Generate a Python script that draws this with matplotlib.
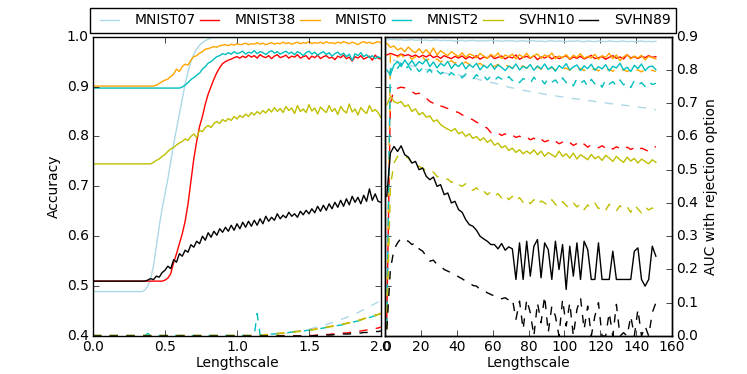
#!/usr/bin/python3

import numpy as np
import matplotlib
matplotlib.use('Agg')
import matplotlib.pyplot as plt

## Dataset names and the colour used for each one.
names = ['MNIST07', 'MNIST38', 'MNIST0', 'MNIST2', 'SVHN10', 'SVHN89']
colors = ['lightblue', 'r', 'orange', 'c', 'y', 'k']

## Left panel: accuracy against lengthscale (0.0 .. 2.0, step 0.02).
acc_mnist07 = [0.489] * 18 + [
  0.492, 0.500, 0.515, 0.540, 0.580, 0.620, 0.655, 0.685, 0.715, 0.750,
  0.785, 0.815, 0.845, 0.875, 0.905, 0.930, 0.950, 0.965, 0.975, 0.983,
  0.988, 0.992, 0.995, 0.997] + [0.998] * 59
acc_mnist38 = [0.510] * 25 + [
  0.512, 0.516, 0.525, 0.547, 0.565, 0.585, 0.605, 0.630, 0.665, 0.710,
  0.755, 0.790, 0.820, 0.840, 0.865, 0.885, 0.900, 0.915, 0.928, 0.938,
  0.946, 0.950, 0.953, 0.955, 0.958, 0.960,
  0.957, 0.961, 0.958, 0.963, 0.959, 0.962, 0.957, 0.964, 0.960, 0.958,
  0.962, 0.956, 0.961, 0.964, 0.958, 0.960, 0.963, 0.957, 0.961, 0.959,
  0.964, 0.957, 0.960, 0.962, 0.955, 0.961, 0.958, 0.963, 0.956, 0.960,
  0.962, 0.957, 0.959, 0.954, 0.961, 0.958, 0.963, 0.956, 0.959, 0.951,
  0.960, 0.957, 0.962, 0.955, 0.958, 0.961, 0.953, 0.963, 0.957, 0.955]
acc_mnist0 = [0.901] * 22 + [
  0.903, 0.906, 0.910, 0.913, 0.915, 0.920, 0.925, 0.935, 0.930, 0.940,
  0.945, 0.943, 0.953, 0.960, 0.962, 0.967, 0.970, 0.975, 0.976, 0.978,
  0.980, 0.979, 0.982, 0.983,
  0.984, 0.982, 0.985, 0.983, 0.986, 0.984, 0.985, 0.987, 0.984, 0.986,
  0.985, 0.988, 0.985, 0.987, 0.984, 0.986, 0.988, 0.985, 0.987, 0.986,
  0.989, 0.986, 0.988, 0.985, 0.987, 0.989, 0.986, 0.988, 0.987, 0.990,
  0.986, 0.988, 0.987, 0.989, 0.986, 0.990, 0.987, 0.988, 0.986, 0.989,
  0.987, 0.990, 0.988, 0.986, 0.989, 0.987, 0.984, 0.988, 0.990, 0.987,
  0.989, 0.986, 0.988, 0.990, 0.988]
acc_mnist2 = [0.897] * 31 + [
  0.899, 0.903, 0.908, 0.914, 0.918, 0.923, 0.927, 0.935, 0.940, 0.947,
  0.950, 0.955, 0.960, 0.962, 0.966,
  0.964, 0.968, 0.965, 0.970, 0.966, 0.968, 0.971, 0.965, 0.969, 0.967,
  0.972, 0.966, 0.970, 0.968, 0.964, 0.969, 0.972, 0.967, 0.970, 0.965,
  0.968, 0.971, 0.966, 0.969, 0.964, 0.970, 0.967, 0.962, 0.968, 0.971,
  0.965, 0.969, 0.963, 0.967, 0.970, 0.964, 0.968, 0.961, 0.966, 0.969,
  0.963, 0.967, 0.960, 0.965, 0.952, 0.966, 0.962, 0.968, 0.960, 0.964,
  0.958, 0.962, 0.956, 0.960, 0.957]
acc_svhn10 = [0.745] * 21 + [
  0.748, 0.752, 0.755, 0.760, 0.764, 0.770, 0.775, 0.778, 0.783, 0.787,
  0.790, 0.795, 0.792, 0.800, 0.805, 0.798, 0.812, 0.810, 0.818, 0.822,
  0.818, 0.826, 0.830, 0.826, 0.834,
  0.830, 0.836, 0.832, 0.840, 0.835, 0.842, 0.838, 0.845, 0.840, 0.848,
  0.843, 0.850, 0.845, 0.852, 0.847, 0.855, 0.849, 0.858, 0.850, 0.856,
  0.848, 0.860, 0.852, 0.857, 0.846, 0.862, 0.850, 0.855, 0.848, 0.864,
  0.851, 0.857, 0.845, 0.859, 0.853, 0.848, 0.862, 0.850, 0.856, 0.844,
  0.860, 0.852, 0.847, 0.865, 0.849, 0.855, 0.843, 0.858, 0.851, 0.846,
  0.862, 0.850, 0.854, 0.848, 0.838]
acc_svhn89 = [0.510] * 19 + [
  0.512, 0.515, 0.513, 0.520, 0.518, 0.527, 0.532, 0.540, 0.535, 0.553,
  0.548, 0.565, 0.560, 0.572, 0.568, 0.583, 0.578, 0.590, 0.585, 0.600,
  0.592, 0.607, 0.598, 0.610, 0.602, 0.615, 0.608, 0.618, 0.610, 0.622,
  0.612, 0.625, 0.615, 0.628, 0.618, 0.630, 0.620, 0.632, 0.622, 0.635,
  0.625, 0.640, 0.630, 0.638, 0.632, 0.645, 0.635, 0.642, 0.637, 0.648,
  0.640, 0.645, 0.638, 0.650, 0.643, 0.652, 0.645, 0.655, 0.647, 0.660,
  0.650, 0.662, 0.652, 0.665, 0.655, 0.668, 0.658, 0.672, 0.660, 0.675,
  0.663, 0.680, 0.668, 0.678, 0.665, 0.682, 0.670, 0.695, 0.672, 0.685,
  0.670, 0.668]

## Left panel, dashed curves lying along the bottom of the axis.
low_mnist07 = [0.401] * 60 + [
  0.402, 0.402, 0.403, 0.403, 0.404, 0.405, 0.405, 0.406, 0.407, 0.408,
  0.409, 0.410, 0.411, 0.412, 0.413, 0.414, 0.415, 0.417, 0.418, 0.420,
  0.421, 0.423, 0.425, 0.427, 0.429, 0.431, 0.433, 0.435, 0.437, 0.440,
  0.442, 0.445, 0.447, 0.450, 0.453, 0.456, 0.459, 0.462, 0.465, 0.468,
  0.472]
low_mnist38 = [0.400] * 75 + [
  0.401, 0.401, 0.401, 0.402, 0.402, 0.402, 0.403, 0.403, 0.404, 0.404,
  0.405, 0.405, 0.406, 0.406, 0.407, 0.408, 0.408, 0.409, 0.410, 0.411,
  0.412, 0.413, 0.414, 0.415, 0.416, 0.418]
low_mnist0 = [0.401] * 58 + [
  0.402, 0.402, 0.403, 0.403, 0.404, 0.404, 0.405, 0.406, 0.406, 0.407,
  0.407, 0.408, 0.409, 0.409, 0.410, 0.411, 0.412, 0.412, 0.413, 0.414,
  0.415, 0.416, 0.417, 0.418, 0.419, 0.420, 0.421, 0.422, 0.423, 0.424,
  0.426, 0.427, 0.428, 0.430, 0.431, 0.433, 0.435, 0.436, 0.438, 0.440,
  0.442, 0.443, 0.446]
low_mnist2 = [0.401] * 19 + [0.405] + [0.401] * 37 + [0.445] + [
  0.403, 0.402, 0.403, 0.403, 0.404, 0.404, 0.405, 0.405, 0.406, 0.406,
  0.407, 0.408, 0.408, 0.409, 0.410, 0.410, 0.411, 0.412, 0.413, 0.414,
  0.415, 0.415, 0.416, 0.417, 0.418, 0.419, 0.420, 0.421, 0.422, 0.423,
  0.425, 0.426, 0.427, 0.429, 0.430, 0.432, 0.434, 0.435, 0.437, 0.439,
  0.441, 0.443, 0.445]
low_svhn10 = [0.401] * 58 + [
  0.401, 0.402, 0.402, 0.403, 0.403, 0.404, 0.404, 0.405, 0.405, 0.406,
  0.407, 0.407, 0.408, 0.409, 0.409, 0.410, 0.411, 0.412, 0.412, 0.413,
  0.414, 0.415, 0.416, 0.417, 0.418, 0.419, 0.420, 0.421, 0.422, 0.424,
  0.425, 0.426, 0.428, 0.429, 0.431, 0.432, 0.434, 0.436, 0.437, 0.439,
  0.441, 0.443, 0.444]
low_svhn89 = [0.400] * 75 + [
  0.400, 0.400, 0.401, 0.401, 0.401, 0.401, 0.402, 0.402, 0.402, 0.403,
  0.403, 0.403, 0.404, 0.404, 0.404, 0.405, 0.405, 0.406, 0.406, 0.407,
  0.407, 0.408, 0.408, 0.409, 0.409, 0.410]

## Right panel: AUC with rejection option (x = 1, 3, ..., 151), solid curves.
auc_mnist07 = [
  0.890, 0.892, 0.891, 0.890, 0.891, 0.889, 0.890, 0.891, 0.889, 0.890,
  0.889, 0.890, 0.888, 0.889, 0.890, 0.888, 0.889, 0.888, 0.889, 0.887,
  0.888, 0.889, 0.887, 0.888, 0.889, 0.887, 0.888, 0.887, 0.888, 0.889,
  0.887, 0.888, 0.886, 0.888, 0.887, 0.888, 0.886, 0.887, 0.888, 0.886,
  0.887, 0.888, 0.886, 0.887, 0.885, 0.887, 0.888, 0.886, 0.887, 0.886,
  0.885, 0.887, 0.886, 0.888, 0.886, 0.885, 0.887, 0.886, 0.885, 0.887,
  0.886, 0.885, 0.887, 0.886, 0.885, 0.886, 0.887, 0.885, 0.886, 0.885,
  0.886, 0.887, 0.885, 0.886, 0.885, 0.886]
auc_mnist38 = [
  0.845, 0.850, 0.846, 0.842, 0.848, 0.843, 0.846, 0.840, 0.845, 0.838,
  0.844, 0.839, 0.846, 0.837, 0.842, 0.835, 0.843, 0.838, 0.834, 0.841,
  0.836, 0.842, 0.833, 0.840, 0.835, 0.843, 0.832, 0.839, 0.836, 0.844,
  0.834, 0.838, 0.842, 0.833, 0.840, 0.836, 0.845, 0.832, 0.838, 0.841,
  0.835, 0.843, 0.831, 0.839, 0.836, 0.842, 0.833, 0.840, 0.834, 0.838,
  0.843, 0.832, 0.839, 0.835, 0.841, 0.833, 0.838, 0.844, 0.834, 0.837,
  0.840, 0.832, 0.838, 0.843, 0.835, 0.839, 0.833, 0.846, 0.836, 0.840,
  0.834, 0.841, 0.837, 0.843, 0.838, 0.840]
auc_mnist0 = [
  0.880, 0.868, 0.872, 0.860, 0.866, 0.855, 0.869, 0.858, 0.852, 0.864,
  0.850, 0.861, 0.848, 0.866, 0.845, 0.858, 0.850, 0.843, 0.855, 0.847,
  0.840, 0.852, 0.838, 0.848, 0.844, 0.836, 0.850, 0.842, 0.835, 0.847,
  0.839, 0.851, 0.834, 0.845, 0.840, 0.848, 0.833, 0.846, 0.838, 0.850,
  0.836, 0.843, 0.848, 0.835, 0.845, 0.839, 0.851, 0.834, 0.842, 0.837,
  0.846, 0.833, 0.844, 0.838, 0.849, 0.835, 0.841, 0.836, 0.847, 0.832,
  0.843, 0.838, 0.850, 0.834, 0.845, 0.828, 0.840, 0.846, 0.833, 0.842,
  0.836, 0.844, 0.830, 0.841, 0.837, 0.833]
auc_mnist2 = [
  0.800, 0.785, 0.815, 0.825, 0.810, 0.830, 0.815, 0.828, 0.812, 0.825,
  0.818, 0.832, 0.810, 0.824, 0.806, 0.820, 0.812, 0.826, 0.804, 0.818,
  0.810, 0.822, 0.803, 0.816, 0.808, 0.820, 0.800, 0.814, 0.806, 0.819,
  0.802, 0.815, 0.808, 0.798, 0.812, 0.804, 0.818, 0.800, 0.811, 0.805,
  0.816, 0.799, 0.812, 0.803, 0.818, 0.801, 0.810, 0.796, 0.813, 0.805,
  0.819, 0.800, 0.809, 0.815, 0.798, 0.812, 0.804, 0.817, 0.799, 0.810,
  0.803, 0.816, 0.797, 0.811, 0.806, 0.820, 0.800, 0.808, 0.795, 0.814,
  0.804, 0.818, 0.798, 0.809, 0.812, 0.801]
auc_svhn10 = [
  0.695, 0.720, 0.705, 0.700, 0.705, 0.690, 0.695, 0.675, 0.683, 0.665,
  0.672, 0.658, 0.662, 0.645, 0.650, 0.636, 0.628, 0.622, 0.616, 0.624,
  0.608, 0.614, 0.600, 0.608, 0.594, 0.600, 0.588, 0.596, 0.582, 0.590,
  0.574, 0.580, 0.566, 0.572, 0.558, 0.565, 0.552, 0.560, 0.548, 0.556,
  0.548, 0.560, 0.545, 0.556, 0.540, 0.552, 0.545, 0.538, 0.556, 0.540,
  0.548, 0.535, 0.550, 0.532, 0.545, 0.538, 0.530, 0.546, 0.533, 0.540,
  0.528, 0.543, 0.535, 0.525, 0.540, 0.530, 0.522, 0.538, 0.526, 0.534,
  0.520, 0.532, 0.525, 0.518, 0.530, 0.522]
auc_svhn89 = [
  0.420, 0.550, 0.570, 0.555, 0.572, 0.545, 0.538, 0.520, 0.525, 0.500,
  0.505, 0.480, 0.470, 0.478, 0.450, 0.455, 0.425, 0.430, 0.400, 0.405,
  0.380, 0.372, 0.350, 0.335, 0.330, 0.318, 0.300, 0.292, 0.285, 0.275,
  0.275, 0.262, 0.278, 0.258, 0.268, 0.262, 0.170, 0.280, 0.170, 0.285,
  0.180, 0.270, 0.290, 0.175, 0.280, 0.260, 0.170, 0.285, 0.200, 0.275,
  0.140, 0.270, 0.180, 0.280, 0.170, 0.285, 0.260, 0.170, 0.170, 0.280,
  0.170, 0.170, 0.170, 0.255, 0.170, 0.170, 0.170, 0.170, 0.170, 0.255,
  0.265, 0.170, 0.150, 0.170, 0.270, 0.240]

## Right panel, dashed curves.
aucd_mnist07 = [
  0.030, 0.820, 0.830, 0.825, 0.822, 0.818, 0.815, 0.812, 0.810, 0.806,
  0.804, 0.801, 0.800, 0.797, 0.796, 0.793, 0.791, 0.789, 0.787, 0.785,
  0.785, 0.783, 0.780, 0.779, 0.776, 0.774, 0.770, 0.768, 0.765, 0.763,
  0.760, 0.758, 0.755, 0.752, 0.748, 0.746, 0.744, 0.742, 0.739, 0.737,
  0.735, 0.733, 0.731, 0.729, 0.727, 0.725, 0.723, 0.722, 0.720, 0.719,
  0.717, 0.716, 0.714, 0.713, 0.711, 0.710, 0.708, 0.707, 0.705, 0.704,
  0.702, 0.701, 0.699, 0.698, 0.697, 0.695, 0.694, 0.693, 0.691, 0.690,
  0.689, 0.687, 0.686, 0.685, 0.683, 0.680]
aucd_mnist38 = [
  0.050, 0.700, 0.740, 0.745, 0.748, 0.746, 0.740, 0.735, 0.728, 0.730,
  0.720, 0.715, 0.705, 0.700, 0.702, 0.692, 0.688, 0.684, 0.680, 0.675,
  0.672, 0.665, 0.660, 0.655, 0.650, 0.643, 0.638, 0.630, 0.625, 0.612,
  0.606, 0.610, 0.603, 0.608, 0.600, 0.604, 0.597, 0.601, 0.594, 0.598,
  0.590, 0.595, 0.585, 0.592, 0.584, 0.588, 0.580, 0.586, 0.578, 0.583,
  0.576, 0.582, 0.573, 0.579, 0.570, 0.577, 0.568, 0.575, 0.570, 0.566,
  0.572, 0.565, 0.571, 0.562, 0.569, 0.564, 0.560, 0.568, 0.561, 0.566,
  0.558, 0.565, 0.560, 0.555, 0.562, 0.570]
aucd_mnist0 = [
  0.020, 0.845, 0.850, 0.838, 0.846, 0.835, 0.843, 0.832, 0.840, 0.830,
  0.838, 0.828, 0.835, 0.826, 0.833, 0.824, 0.830, 0.822, 0.828, 0.820,
  0.826, 0.818, 0.824, 0.816, 0.822, 0.815, 0.820, 0.812, 0.818, 0.814,
  0.810, 0.817, 0.808, 0.815, 0.811, 0.806, 0.814, 0.808, 0.812, 0.805,
  0.811, 0.804, 0.809, 0.802, 0.810, 0.803, 0.807, 0.800, 0.808, 0.802,
  0.806, 0.799, 0.807, 0.801, 0.805, 0.798, 0.806, 0.800, 0.803, 0.797,
  0.805, 0.799, 0.802, 0.796, 0.804, 0.798, 0.801, 0.795, 0.803, 0.797,
  0.800, 0.794, 0.802, 0.796, 0.799, 0.795]
aucd_mnist2 = [
  0.030, 0.800, 0.815, 0.805, 0.820, 0.800, 0.812, 0.797, 0.810, 0.795,
  0.806, 0.790, 0.802, 0.785, 0.798, 0.788, 0.795, 0.780, 0.792, 0.783,
  0.790, 0.776, 0.788, 0.780, 0.772, 0.786, 0.775, 0.783, 0.770, 0.781,
  0.768, 0.779, 0.773, 0.764, 0.780, 0.768, 0.776, 0.762, 0.774, 0.770,
  0.760, 0.778, 0.765, 0.772, 0.758, 0.775, 0.763, 0.770, 0.755, 0.776,
  0.762, 0.769, 0.752, 0.774, 0.760, 0.768, 0.750, 0.772, 0.758, 0.766,
  0.748, 0.771, 0.757, 0.765, 0.752, 0.770, 0.755, 0.763, 0.747, 0.768,
  0.754, 0.762, 0.750, 0.766, 0.756, 0.760]
aucd_svhn10 = [
  0.020, 0.450, 0.520, 0.540, 0.545, 0.540, 0.535, 0.520, 0.522, 0.510,
  0.505, 0.495, 0.490, 0.493, 0.480, 0.476, 0.470, 0.472, 0.462, 0.468,
  0.455, 0.450, 0.458, 0.445, 0.438, 0.446, 0.430, 0.436, 0.425, 0.433,
  0.420, 0.428, 0.415, 0.425, 0.410, 0.420, 0.405, 0.416, 0.402, 0.412,
  0.398, 0.410, 0.395, 0.406, 0.400, 0.392, 0.410, 0.396, 0.388, 0.404,
  0.392, 0.385, 0.400, 0.388, 0.398, 0.380, 0.394, 0.386, 0.400, 0.383,
  0.390, 0.378, 0.396, 0.384, 0.376, 0.392, 0.380, 0.388, 0.372, 0.394,
  0.382, 0.370, 0.388, 0.379, 0.385, 0.376]
aucd_svhn89 = [
  0.020, 0.200, 0.260, 0.280, 0.294, 0.288, 0.285, 0.275, 0.280, 0.262,
  0.255, 0.240, 0.225, 0.228, 0.215, 0.210, 0.200, 0.195, 0.190, 0.185,
  0.178, 0.172, 0.165, 0.160, 0.152, 0.150, 0.140, 0.138, 0.130, 0.125,
  0.120, 0.118, 0.112, 0.115, 0.108, 0.112, 0.050, 0.105, 0.020, 0.110,
  0.070, 0.000, 0.100, 0.040, 0.120, 0.010, 0.090, 0.060, 0.000, 0.110,
  0.030, 0.100, 0.000, 0.080, 0.115, 0.020, 0.090, 0.000, 0.060, 0.100,
  0.000, 0.000, 0.070, 0.000, 0.095, 0.000, 0.010, 0.000, 0.060, 0.000,
  0.080, 0.000, 0.030, 0.000, 0.070, 0.100]


def main():
  plt.style.use('classic')
  plt.rcParams['font.size'] = 10
  plt.rcParams['savefig.facecolor'] = 'white'
  plt.rcParams['xtick.major.pad'] = 3
  plt.rcParams['ytick.major.pad'] = 3

  acc = [acc_mnist07, acc_mnist38, acc_mnist0, acc_mnist2, acc_svhn10,
         acc_svhn89]
  low = [low_mnist07, low_mnist38, low_mnist0, low_mnist2, low_svhn10,
         low_svhn89]
  auc = [auc_mnist07, auc_mnist38, auc_mnist0, auc_mnist2, auc_svhn10,
         auc_svhn89]
  aucd = [aucd_mnist07, aucd_mnist38, aucd_mnist0, aucd_mnist2, aucd_svhn10,
          aucd_svhn89]

  ## Setup figure and the two panels.
  fig = plt.figure(figsize=(7.47, 3.74), dpi=100, facecolor='white')
  ax1 = fig.add_axes([0.1245, 0.1016, 0.3855, 0.8003])
  ax2 = fig.add_axes([0.5154, 0.1016, 0.3842, 0.8003], sharey=ax1)
  ax3 = ax2.twinx()

  handles = []
  for name, color, a, l in zip(names, colors, acc, low):
    x = np.linspace(0, 2, len(a))
    h, = ax1.plot(x, a, color=color, lw=1, label=name)
    handles.append(h)
    ax1.plot(np.linspace(0, 2, len(l)), l, color=color, lw=1, ls='--')

  for color, s, d in zip(colors, auc, aucd):
    x = 1 + 2 * np.arange(len(s))
    ax3.plot(x, s, color=color, lw=1)
    ax3.plot(1 + 2 * np.arange(len(d)), d, color=color, lw=1, ls='--')

  ## Left panel axes.
  ax1.set_xlim(0, 2)
  ax1.set_ylim(0.4, 1.0)
  ax1.set_xticks([0.0, 0.5, 1.0, 1.5, 2.0])
  ax1.set_yticks([0.4, 0.5, 0.6, 0.7, 0.8, 0.9, 1.0])
  ax1.set_xlabel('Lengthscale', labelpad=1)
  ax1.set_ylabel('Accuracy', labelpad=4)

  ## Right panel axes.
  ax2.set_xlim(0, 160)
  ax2.set_xticks(range(0, 161, 20))
  ax2.tick_params(axis='y', labelleft=False, right=False)
  ax2.set_xlabel('Lengthscale', labelpad=1)
  ax3.set_ylim(0, 0.9)
  ax3.set_yticks(np.arange(0, 0.91, 0.1))
  ax3.set_ylabel('AUC with rejection option', labelpad=4)

  fig.legend(handles=handles, loc='lower left', ncol=6, mode='expand',
             bbox_to_anchor=(90 / 747, 1 - 33 / 374, 586 / 747, 22 / 374),
             fontsize=10, borderaxespad=0, handlelength=2.0,
             frameon=True, fancybox=False)

  fig.savefig('out.png', dpi=100)


if __name__ == '__main__':
  main()
